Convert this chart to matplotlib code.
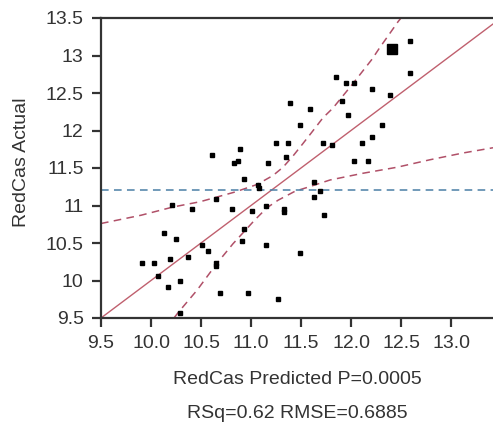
import matplotlib
matplotlib.use("Agg")
import matplotlib.pyplot as plt

plt.rcParams['font.family'] = ['Liberation Sans', 'DejaVu Sans']

# RedCas predicted vs actual
predicted = [10.61, 10.89, 10.83, 10.87, 10.93, 11.07, 11.08, 11.17, 11.25, 11.37,
             11.39, 11.35, 11.49, 11.59, 10.21, 10.41, 10.65, 10.81, 11.15, 11.33,
             11.33, 12.59, 12.59, 11.85, 11.95, 12.03, 12.21, 11.91, 12.39, 11.97,
             12.31, 11.72, 11.81, 12.11, 12.21, 12.03, 12.17, 11.63, 11.69, 11.63,
             11.73, 11.01, 10.13, 10.25, 10.51, 10.57, 10.93, 10.91, 11.15, 11.49,
             9.91, 10.03, 10.19, 10.37, 10.65, 10.65, 10.07, 10.29, 10.17, 10.69,
             10.97, 11.27, 10.29]
actual = [11.67, 11.75, 11.57, 11.59, 11.35, 11.27, 11.23, 11.57, 11.83, 11.83,
          12.37, 11.65, 12.07, 12.29, 11.01, 10.95, 11.09, 10.95, 10.99, 10.95,
          10.91, 13.19, 12.77, 12.71, 12.63, 12.63, 12.55, 12.39, 12.47, 12.21,
          12.07, 11.83, 11.81, 11.83, 11.91, 11.59, 11.59, 11.31, 11.19, 11.11,
          10.87, 10.93, 10.63, 10.55, 10.47, 10.39, 10.69, 10.53, 10.47, 10.37,
          10.23, 10.23, 10.29, 10.31, 10.23, 10.19, 10.06, 9.99, 9.91, 9.83,
          9.83, 9.75, 9.57]
# the highlighted (larger) point
big_pred = [12.41]
big_act = [13.09]

mean_actual = 11.21

# confidence curves
upper_x = [9.5, 9.9, 10.22, 10.49, 10.84, 11.06, 11.22, 11.32, 11.42, 11.51,
           11.61, 11.72, 11.82, 12.01, 12.11, 12.21, 12.29, 12.37, 12.47, 12.5]
upper_y = [10.76, 10.87, 10.98, 11.05, 11.18, 11.28, 11.4, 11.51, 11.66, 11.81,
           11.98, 12.17, 12.3, 12.61, 12.78, 12.95, 13.11, 13.26, 13.45, 13.5]
lower_x = [10.23, 10.27, 10.46, 10.66, 10.82, 11.04, 11.16, 11.27, 11.44, 11.56,
           11.79, 12.12, 12.46, 12.79, 13.12, 13.42]
lower_y = [9.5, 9.57, 9.87, 10.23, 10.49, 10.81, 10.97, 11.07, 11.19, 11.24,
           11.34, 11.43, 11.51, 11.61, 11.7, 11.77]

xticks = [9.5, 10.0, 10.5, 11.0, 11.5, 12.0, 12.5, 13.0]
yticks = [9.5, 10, 10.5, 11, 11.5, 12, 12.5, 13, 13.5]

fig = plt.figure(figsize=(4.93, 4.24), dpi=100)
ax = fig.add_axes([101 / 493, 106 / 424, 392 / 493, 300 / 424])

ax.set_xlim(9.5, 13.42)
ax.set_ylim(9.5, 13.5)

# fit line (actual = predicted)
ax.axline((9.5, 9.5), slope=1, color='#c0606e', lw=1.0, zorder=2)
ax.plot(upper_x, upper_y, color='#b05068', lw=1.1, dashes=(5, 3.5), zorder=2)
ax.plot(lower_x, lower_y, color='#b05068', lw=1.1, dashes=(5, 3.5), zorder=2)
ax.axhline(mean_actual, color='#4a7fa6', lw=1.1, dashes=(5, 3.5), zorder=2)

ax.plot(predicted, actual, 's', color='black', markersize=3, zorder=3)
ax.plot(big_pred, big_act, 's', color='black', markersize=6.5, zorder=3)

ax.set_xticks(xticks)
ax.set_xticklabels([f'{v:.1f}' for v in xticks])
ax.set_yticks(yticks)
ax.set_yticklabels([f'{v:g}' for v in yticks])

for side in ['left', 'bottom', 'top']:
    ax.spines[side].set_color('#333333')
    ax.spines[side].set_linewidth(1.6)
ax.spines['right'].set_visible(False)
ax.tick_params(direction='out', length=6.5, width=1.6, color='#333333',
               labelsize=14, labelcolor='#333333', pad=6)

fig.text(297 / 493, 1 - 380 / 424, 'RedCas Predicted P=0.0005', ha='center', va='center',
         fontsize=14, color='#333333')
fig.text(297 / 493, 1 - 413 / 424, 'RSq=0.62 RMSE=0.6885', ha='center', va='center',
         fontsize=14, color='#333333')
fig.text(22 / 493, 1 - 162 / 424, 'RedCas Actual', ha='center', va='center',
         rotation=90, fontsize=14, color='#333333')

fig.savefig('out.png', dpi=100)
